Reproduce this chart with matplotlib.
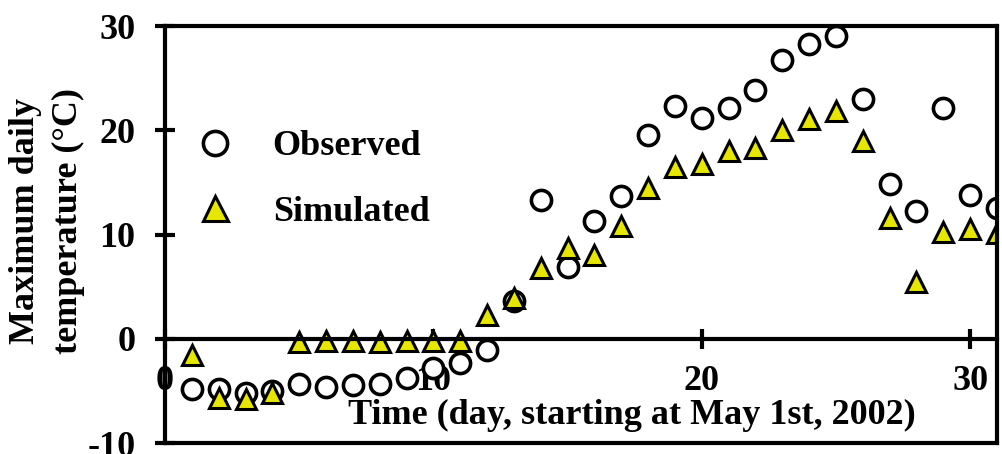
import matplotlib.pyplot as plt
import numpy as np

days = np.arange(1, 32)
observed = [-4.8, -4.8, -5.2, -5.0, -4.3, -4.6, -4.4, -4.3, -3.8, -2.8,
            -2.3, -1.1, 3.6, 13.3, 6.9, 11.3, 13.7, 19.5, 22.3, 21.2,
            22.1, 23.9, 26.7, 28.3, 29.0, 23.0, 14.8, 12.3, 22.1, 13.8, 12.5]
simulated = [-1.6, -5.7, -5.8, -5.2, -0.3, -0.2, -0.2, -0.3, -0.2, -0.2,
             -0.2, 2.3, 3.9, 6.8, 8.7, 8.0, 10.8, 14.5, 16.5, 16.8,
             18.0, 18.3, 20.0, 21.1, 21.8, 19.0, 11.6, 5.4, 10.2, 10.5, 10.1]
xticks = [0, 10, 20, 30]
yticks = [-10, 0, 10, 20, 30]

plt.rcParams['font.family'] = 'Liberation Serif'
plt.rcParams['font.weight'] = 'bold'
plt.rcParams['font.size'] = 26
plt.rcParams['axes.unicode_minus'] = False

fig = plt.figure(figsize=(10.03, 4.54), dpi=100)
ax = fig.add_axes([0.1645, 0.0242, 0.8295, 0.9185])

lw = 3.0
ax.plot(days, observed, 'o', ms=14.5, mfc='white', mec='black', mew=2.6,
        label='Observed')
ax.plot(days, simulated, '^', ms=15, mfc='#E6E600', mec='black', mew=2.2,
        label='Simulated')

ax.set_xlim(0, 31)
ax.set_ylim(-10, 30)
ax.set_xticks(xticks)
ax.set_yticks(yticks)

# x axis sits on y = 0, the box is closed by a line at -10
ax.spines['bottom'].set_position(('data', 0))
for s in ax.spines.values():
    s.set_linewidth(lw)
ax.axhline(-10, color='black', lw=lw, clip_on=False)

ax.tick_params(axis='both', direction='inout', length=14.5, width=lw)
ax.tick_params(axis='x', pad=12)
ax.tick_params(axis='y', pad=14)

ax.text(0.561, 0.067, 'Time (day, starting at May 1st, 2002)',
        transform=ax.transAxes, ha='center', va='center')
fig.text(0.047, 0.513, 'Maximum daily\ntemperature (°C)', rotation=90,
         ha='center', va='center', linespacing=1.42)

ax.legend(loc='center left', bbox_to_anchor=(0.021, 0.632), frameon=False,
          handlelength=1.0, handletextpad=1.1, labelspacing=0.9,
          markerscale=1.2, borderaxespad=0)

fig.savefig('out.png', dpi=100)
